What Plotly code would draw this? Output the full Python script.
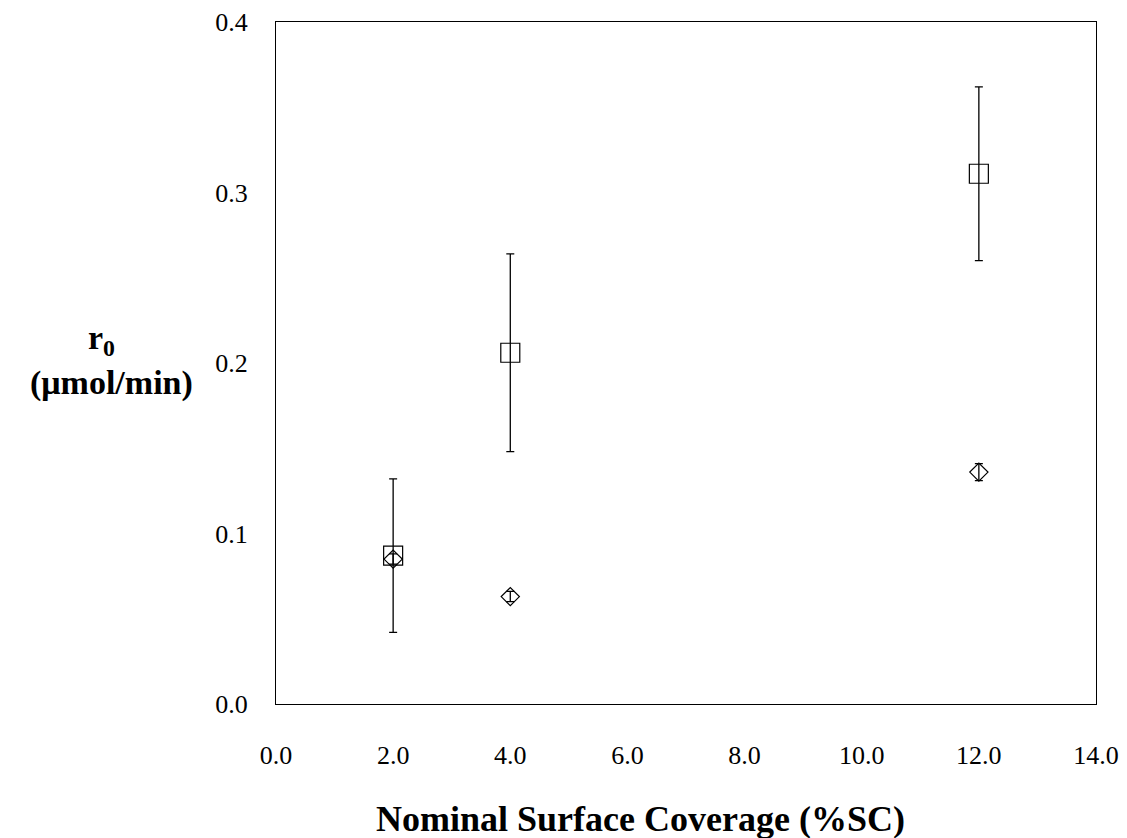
import plotly.graph_objects as go

# Data
sc_square = [2.0, 4.0, 12.0]
r0_square = [0.087, 0.206, 0.311]
err_square = [0.045, 0.058, 0.051]

sc_diamond = [2.0, 4.0, 12.0]
r0_diamond = [0.085, 0.063, 0.136]
err_diamond = [0.003, 0.003, 0.005]

x_ticks = [0, 2, 4, 6, 8, 10, 12, 14]
y_ticks = [0.0, 0.1, 0.2, 0.3, 0.4]

FONT = "Liberation Serif"

fig = go.Figure()
fig.add_trace(go.Scatter(
    x=sc_square, y=r0_square, mode="markers",
    marker=dict(symbol="square-open", size=19, color="black", line=dict(width=1.2)),
    error_y=dict(type="data", array=err_square, visible=True, color="black", thickness=1.3, width=4),
    showlegend=False))
fig.add_trace(go.Scatter(
    x=sc_diamond, y=r0_diamond, mode="markers",
    marker=dict(symbol="diamond-open", size=14, color="black", line=dict(width=1.2)),
    error_y=dict(type="data", array=err_diamond, visible=True, color="black", thickness=1.3, width=4),
    showlegend=False))

fig.update_layout(
    width=1127, height=838,
    margin=dict(l=276, r=31, t=22, b=134),
    plot_bgcolor="white", paper_bgcolor="white",
    font=dict(family=FONT, size=26, color="black"),
    xaxis=dict(range=[0, 14], tickvals=x_ticks, ticktext=[f"{v:.1f}" for v in x_ticks],
               showgrid=False, zeroline=False, showline=True, linecolor="black", linewidth=1.3,
               mirror=True, ticks="outside", ticklen=28, tickcolor="rgba(0,0,0,0)",
               automargin=False, tickfont=dict(family=FONT, size=26)),
    yaxis=dict(range=[0, 0.4], tickvals=y_ticks, ticktext=[f"{v:.1f}" for v in y_ticks],
               showgrid=False, zeroline=False, showline=True, linecolor="black", linewidth=1.3,
               mirror=True, ticks="outside", ticklen=22, tickcolor="rgba(0,0,0,0)",
               automargin=False, tickfont=dict(family=FONT, size=26)),
)

fig.add_annotation(text="<b>r<sub>0</sub></b>", xref="paper", yref="paper",
                   x=-0.213, y=0.534, showarrow=False, xanchor="center", yanchor="middle",
                   font=dict(family=FONT, size=34))
fig.add_annotation(text="<b>(μmol/min)</b>", xref="paper", yref="paper",
                   x=-0.201, y=0.471, showarrow=False, xanchor="center", yanchor="middle",
                   font=dict(family=FONT, size=34))
fig.add_annotation(text="<b>Nominal Surface Coverage (%SC)</b>", xref="paper", yref="paper",
                   x=0.445, y=-0.168, showarrow=False, xanchor="center", yanchor="middle",
                   font=dict(family=FONT, size=36))

fig.write_html("out.html")
